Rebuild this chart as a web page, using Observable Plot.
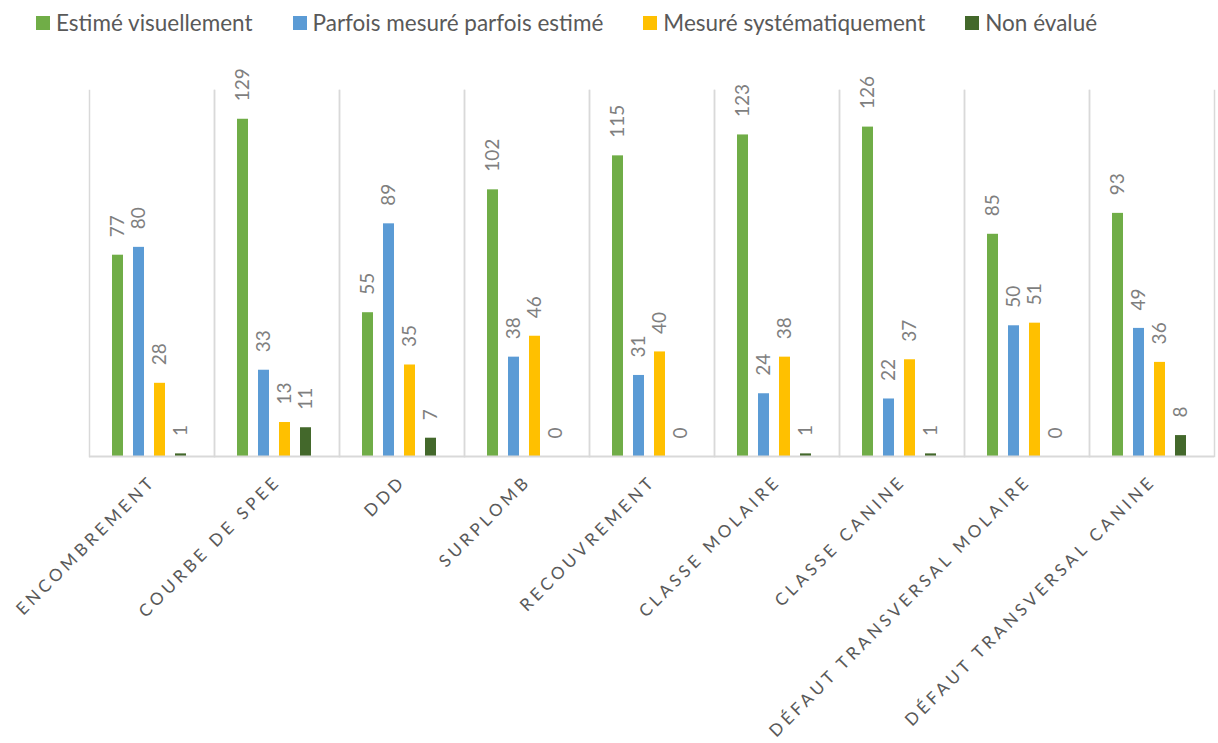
<!DOCTYPE html>
<html><head><meta charset="utf-8">
<script src="https://cdn.jsdelivr.net/npm/d3@7"></script>
<script src="https://cdn.jsdelivr.net/npm/@observablehq/plot@0.6"></script>
<style>
body{margin:0;background:#fff;font-family:Lato,"Noto Sans",sans-serif;}
#legend{height:50px;display:flex;align-items:flex-start;padding-left:36px;box-sizing:border-box;padding-top:10px;color:#595959;font-size:22.5px;}
#legend .item{display:flex;align-items:center;margin-right:40px;line-height:26px;}
#legend .sw{width:14px;height:14px;margin-right:6px;}
g[aria-label="fx-axis tick label"] text{letter-spacing:3.8px;}
</style>
</head><body>
<div id="legend"></div>
<div id="chart"></div>
<script>
const categories = ["ENCOMBREMENT","COURBE DE SPEE","DDD","SURPLOMB","RECOUVREMENT","CLASSE MOLAIRE","CLASSE CANINE","DÉFAUT TRANSVERSAL MOLAIRE","DÉFAUT TRANSVERSAL CANINE"];
const series = ["Estimé visuellement","Parfois mesuré parfois estimé","Mesuré systématiquement","Non évalué"];
const estimeVisuellement = [77,129,55,102,115,123,126,85,93];
const parfoisMesure = [80,33,89,38,31,24,22,50,49];
const mesureSystematiquement = [28,13,35,46,40,38,37,51,36];
const nonEvalue = [1,11,7,0,0,1,1,0,8];
const colors = ["#70ad47","#5b9bd5","#ffc000","#43682b"];

const valuesBySeries = [estimeVisuellement, parfoisMesure, mesureSystematiquement, nonEvalue];
const data = [];
categories.forEach((c,i)=>series.forEach((s,j)=>data.push({category:c, series:s, value:valuesBySeries[j][i]})));

const legend = document.getElementById("legend");
series.forEach((s,j)=>{
  const it = document.createElement("div"); it.className="item";
  const sw = document.createElement("span"); sw.className="sw"; sw.style.background=colors[j];
  const t = document.createElement("span"); t.textContent=s;
  it.appendChild(sw); it.appendChild(t); legend.appendChild(it);
});

const chart = Plot.plot({
  width:1218, height:693,
  marginLeft:86, marginRight:1, marginTop:40, marginBottom:287,
  style:{fontFamily:"Lato, 'Noto Sans', sans-serif", background:"#fff"},
  fx:{domain:categories, padding:0, label:null, axis:null},
  x:{domain:series, paddingInner:0.48, paddingOuter:1.19, axis:null},
  y:{domain:[0,140], axis:null},
  color:{domain:series, range:colors},
  marks:[
    Plot.frame({anchor:"left", stroke:"#d9d9d9", strokeWidth:1.5}),
    Plot.frame({anchor:"right", stroke:"#d9d9d9", strokeWidth:1.5}),
    Plot.barY(data, {fx:"category", x:"series", y:"value", fill:"series", dx:-3}),
    Plot.ruleY([0], {stroke:"#d9d9d9", strokeWidth:2}),
    Plot.text(data, {fx:"category", x:"series", y:"value", text:d=>String(d.value), rotate:-90, textAnchor:"start", lineAnchor:"middle", dy:-18, dx:-3, fill:"#7f7f7f", fontSize:19}),
    Plot.axisFx({anchor:"bottom", label:null, tickRotate:-45, tickSize:0, tickPadding:22, dx:1, fontSize:17, fill:"#595959"})
  ]
});
document.getElementById("chart").appendChild(chart);
</script>
</body></html>
